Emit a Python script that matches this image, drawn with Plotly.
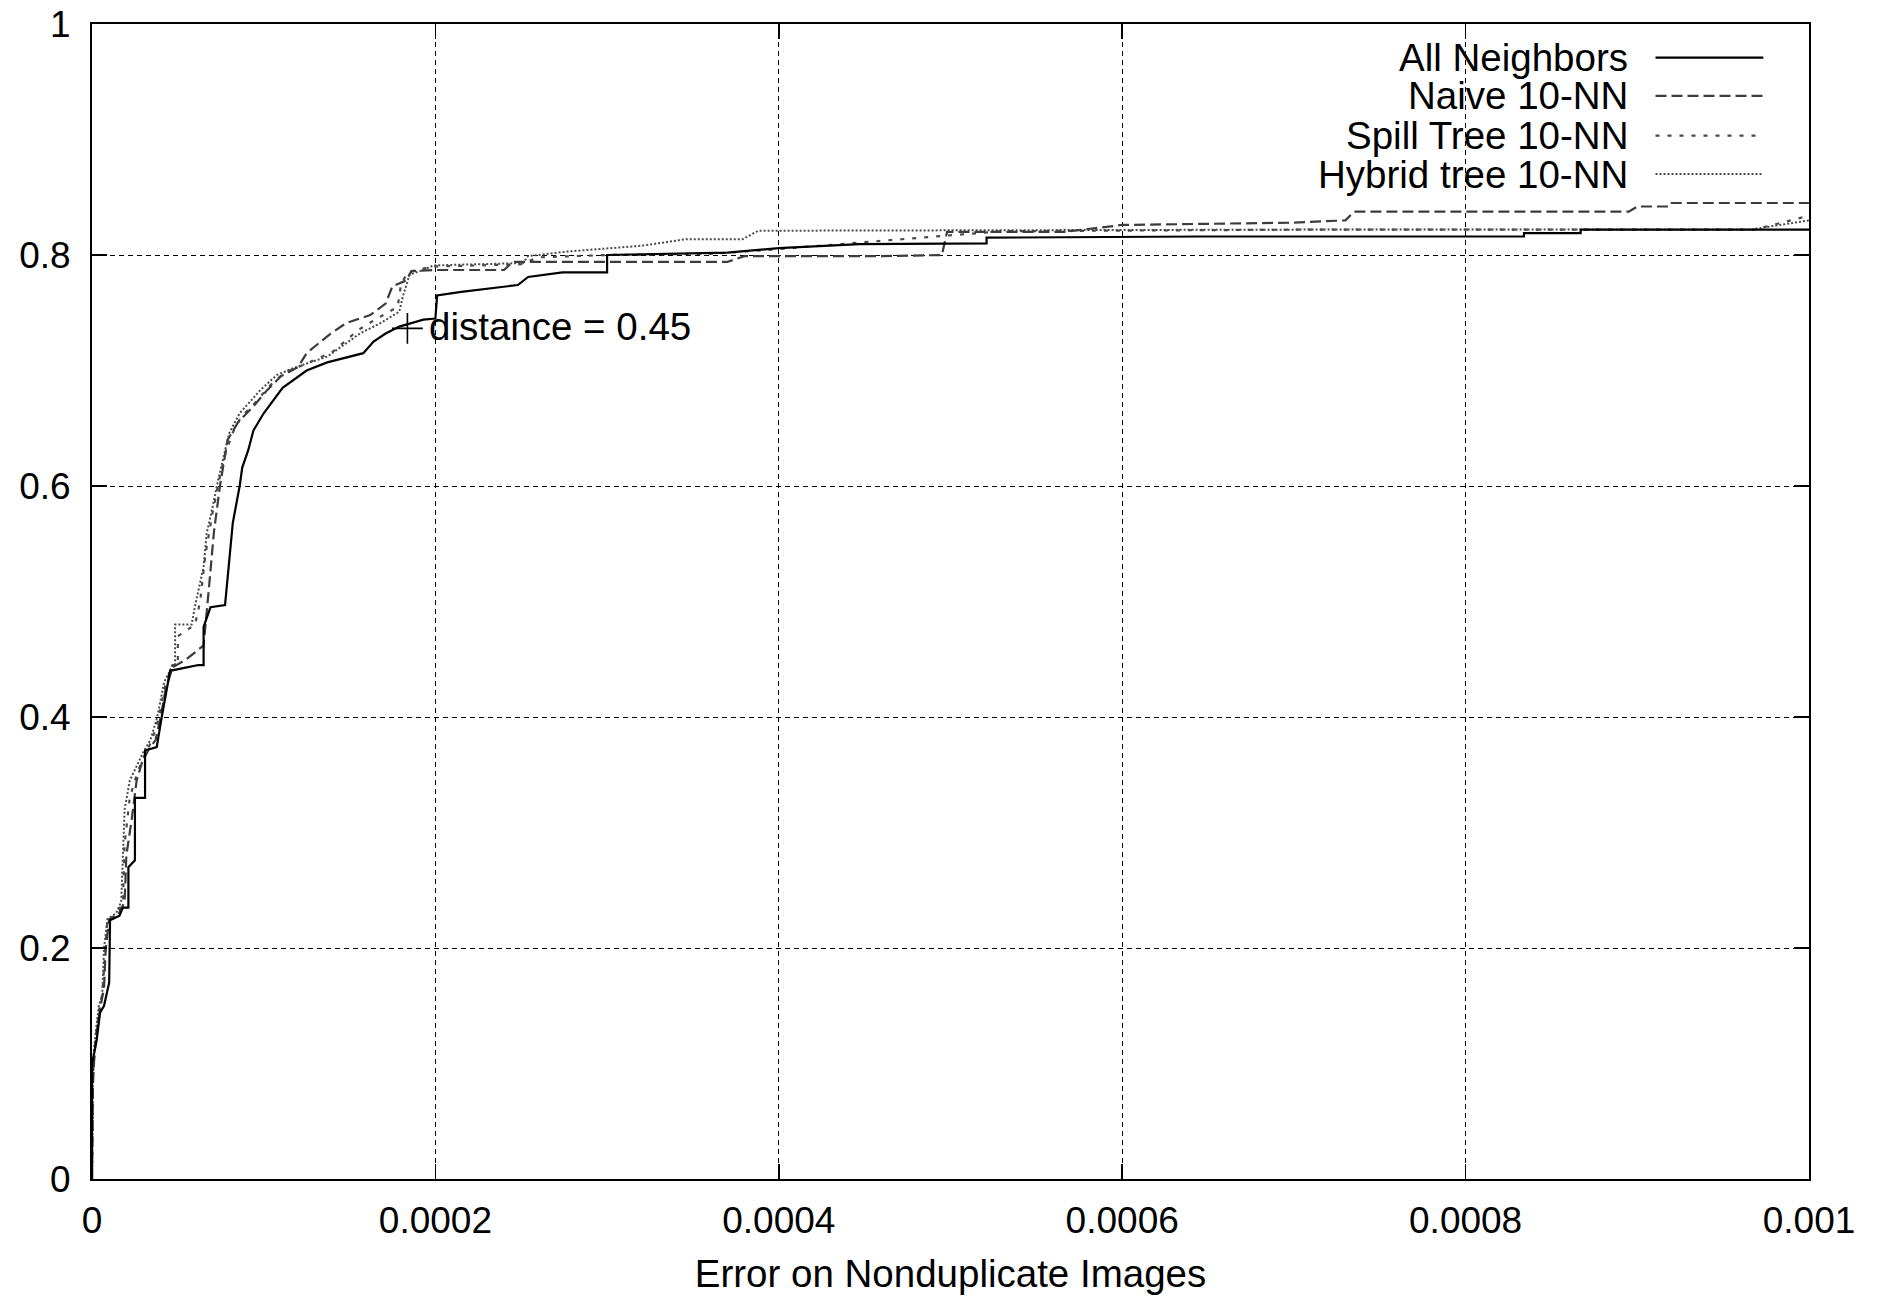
import plotly.graph_objects as go

# ---------------- data (x in raw units, y = fraction) ----------------
x_ticks = [0, 0.0002, 0.0004, 0.0006, 0.0008, 0.001]
x_tick_labels = ["0", "0.0002", "0.0004", "0.0006", "0.0008", "0.001"]
y_ticks = [0, 0.2, 0.4, 0.6, 0.8, 1.0]
y_tick_labels = ["0", "0.2", "0.4", "0.6", "0.8", "1"]

series_names = ["All Neighbors", "Naive 10-NN", "Spill Tree 10-NN", "Hybrid tree 10-NN"]

all_x = [0, 0, 0.001e-4, 0.027e-4, 0.047e-4, 0.07e-4, 0.086e-4, 0.10e-4, 0.105e-4, 0.13e-4, 0.16e-4,
         0.18e-4, 0.212e-4, 0.212e-4, 0.25e-4, 0.25e-4, 0.309e-4, 0.309e-4, 0.377e-4, 0.406e-4,
         0.43e-4, 0.455e-4, 0.62e-4, 0.65e-4, 0.65e-4, 0.69e-4, 0.775e-4, 0.79e-4, 0.82e-4, 0.86e-4,
         0.875e-4, 0.91e-4, 0.94e-4, 1.0e-4, 1.11e-4, 1.25e-4, 1.37e-4, 1.58e-4, 1.64e-4, 1.71e-4,
         1.79e-4, 1.93e-4, 2.0e-4, 2.01e-4, 2.15e-4, 2.48e-4, 2.54e-4, 2.74e-4, 3.0e-4, 3.0e-4,
         3.7e-4, 4.0e-4, 4.47e-4, 5.21e-4, 5.21e-4, 6.46e-4, 8.34e-4, 8.34e-4, 8.67e-4, 8.67e-4, 10e-4]
all_y = [0, 0.06, 0.10, 0.12, 0.144, 0.15, 0.161, 0.17, 0.224, 0.226, 0.228,
         0.235, 0.235, 0.27, 0.276, 0.33, 0.33, 0.371, 0.374, 0.40,
         0.42, 0.44, 0.445, 0.445, 0.478, 0.495, 0.497, 0.519, 0.568, 0.60,
         0.616, 0.631, 0.648, 0.663, 0.685, 0.70, 0.707, 0.715, 0.725, 0.732,
         0.738, 0.744, 0.745, 0.765, 0.768, 0.774, 0.781, 0.785, 0.785, 0.80,
         0.802, 0.806, 0.8095, 0.81, 0.815, 0.816, 0.816, 0.819, 0.819, 0.822, 0.822]

naive_x = [0, 0.005e-4, 0.015e-4, 0.03e-4, 0.05e-4, 0.07e-4, 0.08e-4, 0.10e-4, 0.15e-4, 0.19e-4,
           0.20e-4, 0.23e-4, 0.26e-4, 0.29e-4, 0.33e-4, 0.37e-4, 0.40e-4, 0.43e-4, 0.47e-4, 0.55e-4,
           0.65e-4, 0.66e-4, 0.68e-4, 0.71e-4, 0.745e-4, 0.79e-4, 0.85e-4, 0.94e-4, 1.02e-4, 1.10e-4,
           1.20e-4, 1.25e-4, 1.39e-4, 1.48e-4, 1.62e-4, 1.71e-4, 1.75e-4, 1.83e-4, 1.86e-4, 1.99e-4,
           2.4e-4, 2.45e-4, 3.7e-4, 3.8e-4, 4.3e-4, 4.6e-4, 4.95e-4, 4.98e-4, 5.66e-4, 6.0e-4,
           7.0e-4, 7.3e-4, 7.35e-4, 8.95e-4, 9.0e-4, 9.19e-4, 9.2e-4, 10e-4]
naive_y = [0, 0.08, 0.11, 0.13, 0.15, 0.165, 0.20, 0.225, 0.228, 0.24,
           0.28, 0.31, 0.345, 0.36, 0.372, 0.38, 0.40, 0.425, 0.443, 0.45,
           0.462, 0.48, 0.51, 0.56, 0.60, 0.64, 0.655, 0.669, 0.683, 0.695,
           0.703, 0.715, 0.732, 0.741, 0.748, 0.758, 0.773, 0.778, 0.786, 0.787,
           0.787, 0.794, 0.794, 0.799, 0.799, 0.799, 0.80, 0.82, 0.82, 0.826,
           0.828, 0.83, 0.8375, 0.8375, 0.842, 0.842, 0.845, 0.845]

spill_x = [0, 0.005e-4, 0.02e-4, 0.04e-4, 0.06e-4, 0.075e-4, 0.09e-4, 0.14e-4, 0.18e-4, 0.19e-4,
           0.22e-4, 0.26e-4, 0.30e-4, 0.35e-4, 0.39e-4, 0.43e-4, 0.47e-4, 0.50e-4, 0.50e-4, 0.60e-4,
           0.63e-4, 0.66e-4, 0.70e-4, 0.74e-4, 0.78e-4, 0.83e-4, 0.87e-4, 0.95e-4, 1.03e-4, 1.12e-4,
           1.25e-4, 1.40e-4, 1.55e-4, 1.66e-4, 1.78e-4, 1.80e-4, 1.84e-4, 1.95e-4, 2.0e-4, 2.5e-4,
           2.6e-4, 3.0e-4, 3.6e-4, 3.9e-4, 4.4e-4, 4.95e-4, 5.3e-4, 7.1e-4, 9.68e-4, 10e-4]
spill_y = [0, 0.09, 0.12, 0.145, 0.16, 0.19, 0.225, 0.228, 0.24, 0.29,
           0.33, 0.35, 0.365, 0.38, 0.40, 0.43, 0.445, 0.445, 0.47, 0.48,
           0.50, 0.54, 0.575, 0.605, 0.63, 0.65, 0.66, 0.672, 0.686, 0.698,
           0.706, 0.716, 0.735, 0.745, 0.755, 0.775, 0.785, 0.789, 0.79, 0.792,
           0.798, 0.80, 0.801, 0.804, 0.81, 0.816, 0.8206, 0.822, 0.822, 0.834]

hybrid_x = [0, 0.005e-4, 0.02e-4, 0.04e-4, 0.06e-4, 0.07e-4, 0.09e-4, 0.14e-4, 0.17e-4, 0.18e-4,
            0.19e-4, 0.22e-4, 0.27e-4, 0.30e-4, 0.34e-4, 0.38e-4, 0.42e-4, 0.47e-4, 0.484e-4, 0.484e-4,
            0.58e-4, 0.60e-4, 0.65e-4, 0.668e-4, 0.70e-4, 0.727e-4, 0.785e-4, 0.80e-4, 0.86e-4, 0.98e-4,
            1.076e-4, 1.17e-4, 1.37e-4, 1.56e-4, 1.68e-4, 1.79e-4, 1.81e-4, 1.85e-4, 1.91e-4, 1.99e-4,
            2.51e-4, 2.54e-4, 2.77e-4, 3.2e-4, 3.46e-4, 3.79e-4, 3.88e-4, 7.1e-4, 9.66e-4, 10e-4]
hybrid_y = [0, 0.10, 0.125, 0.15, 0.16, 0.20, 0.225, 0.23, 0.24, 0.28,
            0.32, 0.345, 0.36, 0.37, 0.38, 0.40, 0.43, 0.445, 0.445, 0.48,
            0.48, 0.496, 0.53, 0.559, 0.58, 0.60, 0.637, 0.646, 0.663, 0.683,
            0.696, 0.702, 0.712, 0.732, 0.741, 0.751, 0.764, 0.783, 0.786, 0.791,
            0.793, 0.799, 0.803, 0.808, 0.8137, 0.8137, 0.821, 0.822, 0.822, 0.83]

label_point_x = [1.837e-4]
label_point_y = [0.7365]
label_text = "distance = 0.45"

x_title = "Error on Nonduplicate Images"

# ---------------- styles ----------------
FONT = "Liberation Sans, Arial, Helvetica, sans-serif"
FS_TICK = 37
FS_TEXT = 38.5
styles = [
    dict(color="#000000", width=2.2, dash="solid"),
    dict(color="#3c3c3c", width=2.2, dash="11px,5px"),
    dict(color="#4a4a4a", width=2.2, dash="4px,8px"),
    dict(color="#4a4a4a", width=2.0, dash="2px,2px"),
]
xs = [all_x, naive_x, spill_x, hybrid_x]
ys = [all_y, naive_y, spill_y, hybrid_y]

fig = go.Figure()
# draw back to front: grays first, solid on top
for i in [3, 2, 1, 0]:
    fig.add_trace(go.Scatter(x=xs[i], y=ys[i], mode="lines", name=series_names[i],
                             line=styles[i], showlegend=False, hoverinfo="skip"))

fig.add_trace(go.Scatter(x=label_point_x, y=label_point_y, mode="markers",
                         marker=dict(symbol="cross-thin", size=22, line=dict(color="black", width=1.6)),
                         showlegend=False, hoverinfo="skip"))

fig.add_annotation(x=label_point_x[0], y=label_point_y[0], xref="x", yref="y", text=label_text,
                   showarrow=False, xanchor="left", yanchor="middle", xshift=20, yshift=2,
                   font=dict(family=FONT, size=FS_TEXT, color="black"))

# gnuplot-style key (text right-aligned, line sample to its right)
legend_rows_y = [0.9709, 0.9377, 0.9034, 0.8701]
for i, name in enumerate(series_names):
    fig.add_annotation(x=0.8951, y=legend_rows_y[i], xref="paper", yref="paper", text=name,
                       showarrow=False, xanchor="right", yanchor="middle", borderpad=0,
                       font=dict(family=FONT, size=FS_TEXT, color="black"))
    fig.add_shape(type="line", xref="paper", yref="paper", x0=0.9106, x1=0.9734,
                  y0=legend_rows_y[i], y1=legend_rows_y[i], line=styles[i])

axis_common = dict(
    showline=True, linecolor="black", linewidth=2, mirror="ticks",
    ticks="inside", ticklen=15, tickwidth=1.5, tickcolor="black",
    showgrid=True, gridcolor="black", gridwidth=1, griddash="5px,4px",
    zeroline=False, ticklabeloverflow="allow",
    tickfont=dict(family=FONT, size=FS_TICK, color="black"),
)

fig.update_xaxes(range=[0, 0.001], tickvals=x_ticks, ticktext=x_tick_labels,
                 ticklabelstandoff=8,
                 title=dict(text=x_title, font=dict(family=FONT, size=FS_TEXT, color="black"), standoff=20),
                 **axis_common)
fig.update_yaxes(range=[0, 1], tickvals=y_ticks, ticktext=y_tick_labels,
                 ticklabelstandoff=12, **axis_common)

fig.update_layout(
    width=1881, height=1299,
    margin=dict(l=92, r=72, t=24, b=120, autoexpand=False),
    paper_bgcolor="white", plot_bgcolor="white",
    font=dict(family=FONT, size=FS_TICK, color="black"),
)

fig.write_html("out.html", config={"displayModeBar": False, "staticPlot": True},
               post_script="document.body.style.margin='0px';document.body.style.overflow='hidden';")
